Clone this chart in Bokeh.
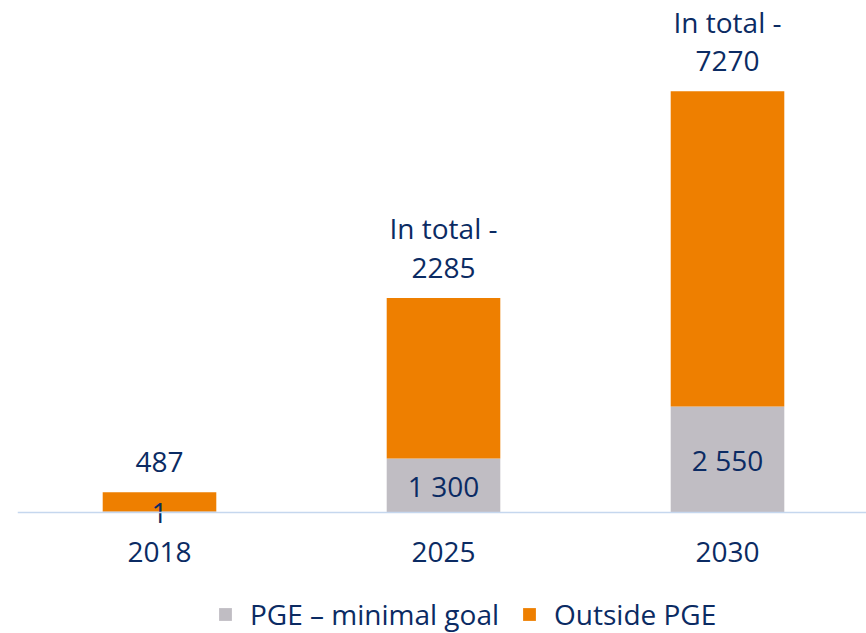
from bokeh.plotting import figure
from bokeh.models import ColumnDataSource, Range1d, FixedTicker, Legend, LegendItem
from bokeh.core.properties import value
from bokeh.embed import file_html
from bokeh.resources import INLINE

# ---- data (bar heights as drawn, scaled so the 2030 total = 7270) ----
years = ["2018", "2025", "2030"]
pge_height = [10, 924, 1823]          # "PGE – minimal goal" segment height
outside_height = [332, 2774, 5447]    # "Outside PGE" segment height
pge_labels = ["1", "1 300", "2 550"]
total_labels = ["487", "2285", "7270"]
total_prefix = ["", "In total -", "In total -"]
series_names = ["PGE – minimal goal", "Outside PGE"]
colors = ["#C0BDC3", "#EE7F00"]

NAVY = "#0B2B63"
FONT = value("Open Sans")

xs = list(range(len(years)))
totals = [a + b for a, b in zip(pge_height, outside_height)]
src = ColumnDataSource(dict(
    x=xs, pge=pge_height, outside=outside_height, total=totals,
    pge_mid=[h / 2 for h in pge_height],
    pge_label=pge_labels, total_label=total_labels, prefix=total_prefix,
))

p = figure(width=866, height=633,
           x_range=Range1d(-0.5, -0.5 + 849 / 284),
           y_range=Range1d(-2099, 8837),
           output_backend="svg", toolbar_location=None,
           y_axis_location=None,
           min_border_left=17, min_border_right=0,
           min_border_top=0, min_border_bottom=0)
p.outline_line_color = None
p.grid.visible = False
p.background_fill_color = "white"
p.border_fill_color = "white"

bars = p.vbar_stack(["pge", "outside"], x="x", width=0.4, source=src,
                    color=colors, line_color=None)

ax = p.xaxis[0]
ax.fixed_location = 0
ax.ticker = FixedTicker(ticks=xs)
ax.major_label_overrides = {i: y for i, y in zip(xs, years)}
ax.axis_line_color = "#C5D7EE"
ax.axis_line_width = 1.5
ax.major_tick_line_color = None
ax.minor_tick_line_color = None
ax.major_tick_out = 0
ax.major_tick_in = 0
ax.major_label_standoff = 30
ax.major_label_text_font = "Open Sans"
ax.major_label_text_font_size = "28px"
ax.major_label_text_color = NAVY

common = dict(text_font=FONT, text_font_size="28px", text_color=NAVY,
              text_align="center", text_baseline="middle")
p.text(x="x", y="total", text="total_label", source=src, y_offset=-30, **common)
p.text(x="x", y="total", text="prefix", source=src, y_offset=-69.5, **common)
p.text(x="x", y="pge_mid", text="pge_label", source=src, y_offset=1, **common)

legend = Legend(items=[LegendItem(label=series_names[i], renderers=[bars[i]]) for i in range(2)],
                orientation="horizontal", location=(200, 0),
                glyph_width=16, glyph_height=16, label_standoff=17, spacing=22,
                padding=0, margin=0, border_line_color=None,
                background_fill_alpha=0,
                label_text_font="Open Sans", label_text_font_size="28px",
                label_text_color=NAVY)
p.add_layout(legend, "center")

open("out.html", "w").write(file_html(p, INLINE))
